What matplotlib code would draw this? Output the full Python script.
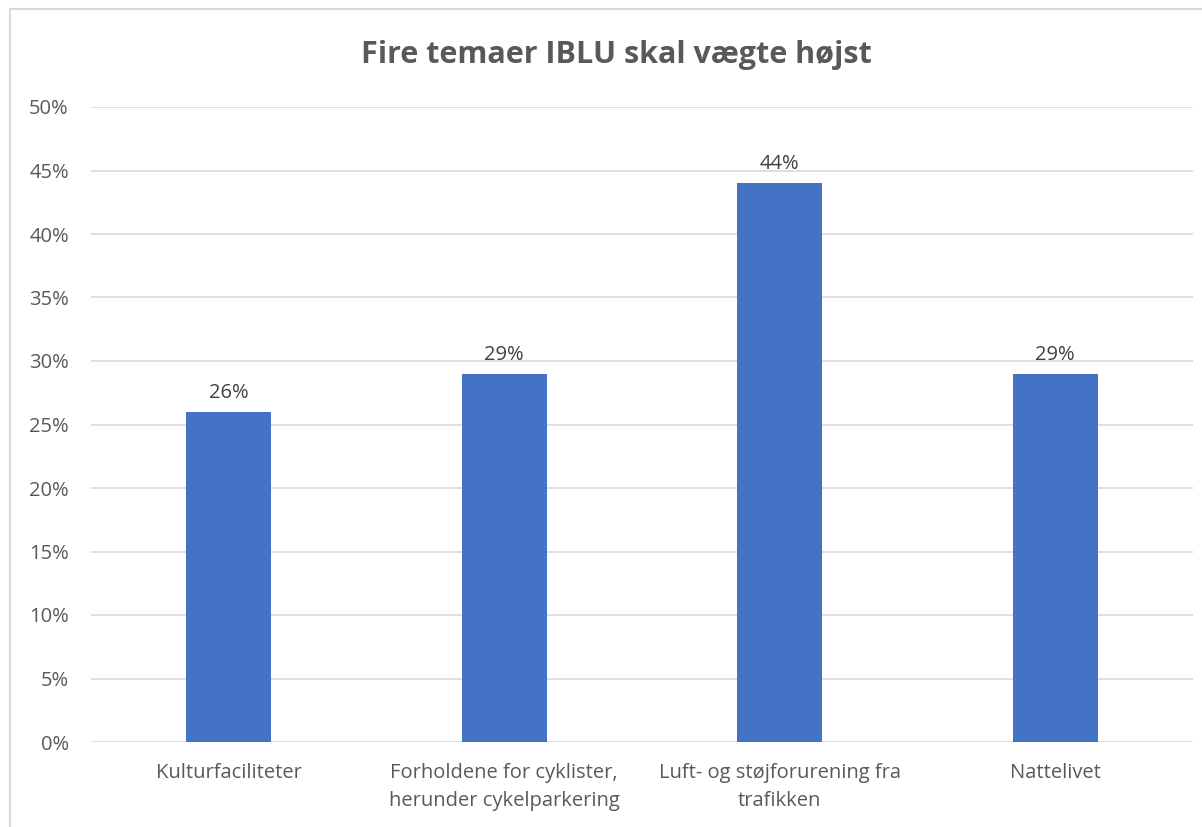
import matplotlib.pyplot as plt
from matplotlib.patches import Rectangle
from matplotlib.ticker import MultipleLocator, PercentFormatter

categories = [
    "Kulturfaciliteter",
    "Forholdene for cyklister,\nherunder cykelparkering",
    "Luft- og støjforurening fra\ntrafikken",
    "Nattelivet",
]
shares = [26, 29, 44, 29]
title = "Fire temaer IBLU skal vægte højst"

plt.rcParams["font.family"] = ["Open Sans", "DejaVu Sans"]

fig = plt.figure(figsize=(12.02, 8.27), dpi=100)
ax = fig.add_axes([91 / 1202, 1 - 742 / 827, 1102 / 1202, 635 / 827])

# chart frame (runs off the right and bottom edges)
fig.patches.append(Rectangle((10 / 1202, -0.05), 1.1, 1 - 9 / 827 + 0.05,
                             transform=fig.transFigure, fill=False,
                             edgecolor="#D9D9D9", linewidth=1.5))

x = range(len(categories))
bars = ax.bar(x, shares, width=0.31, color="#4472C4", zorder=3)
for b, v in zip(bars, shares):
    ax.text(b.get_x() + b.get_width() / 2, v + 0.7, f"{v}%", ha="center",
            va="bottom", fontsize=14.5, color="#404040")

ax.set_xlim(-0.5, len(categories) - 0.5)
ax.set_ylim(0, 50)
ax.yaxis.set_major_locator(MultipleLocator(5))
ax.yaxis.set_major_formatter(PercentFormatter(decimals=0))
ax.grid(axis="y", color="#D9D9D9", linewidth=1.2, zorder=0)
ax.set_xticks(list(x))
ax.set_xticklabels(categories, fontsize=14.5, color="#595959", linespacing=1.55)
ax.tick_params(axis="y", labelsize=14.5, labelcolor="#595959", length=0, pad=16)
ax.tick_params(axis="x", length=0, pad=15)
for s in ax.spines.values():
    s.set_visible(False)

fig.text(616 / 1202, 1 - 55 / 827, title, ha="center", va="center",
         fontsize=22, fontweight="bold", color="#595959")

fig.savefig("out.png", dpi=100)
